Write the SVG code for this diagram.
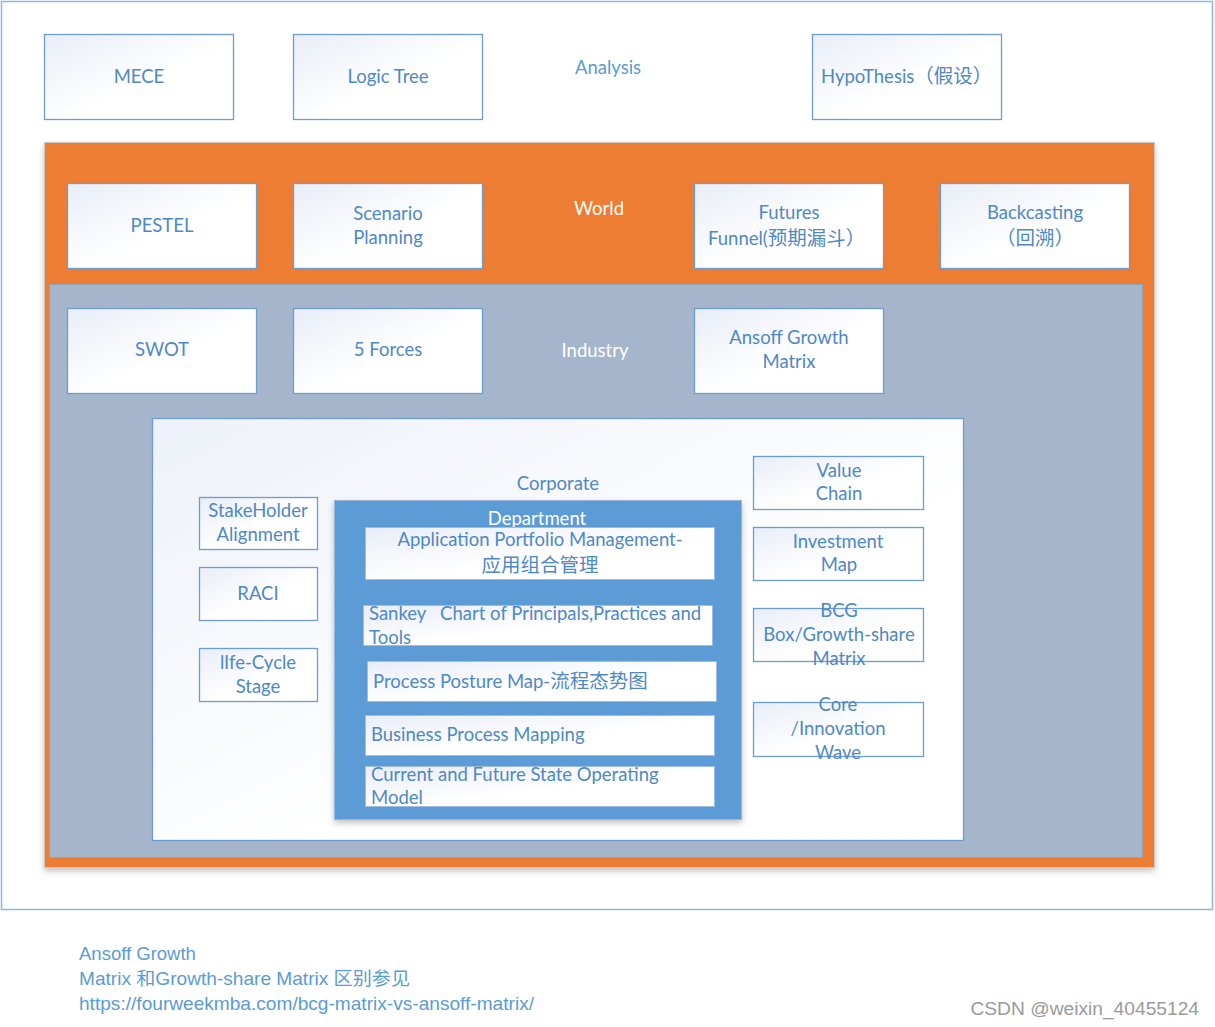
<svg xmlns="http://www.w3.org/2000/svg" width="1215" height="1027" viewBox="0 0 1215 1027">
<defs>
<linearGradient id="g" x1="0" y1="0" x2="1" y2="1">
<stop offset="0" stop-color="#e8edf7"/>
<stop offset="0.55" stop-color="#ffffff"/>
<stop offset="1" stop-color="#ffffff"/>
</linearGradient>
<linearGradient id="gc" x1="0" y1="0" x2="1" y2="1">
<stop offset="0" stop-color="#edf1f9"/>
<stop offset="0.6" stop-color="#ffffff"/>
<stop offset="1" stop-color="#ffffff"/>
</linearGradient>
<filter id="sh" x="-5%" y="-5%" width="110%" height="110%">
<feGaussianBlur in="SourceAlpha" stdDeviation="3"/>
<feOffset dx="0" dy="3"/>
<feComponentTransfer><feFuncA type="linear" slope="0.25"/></feComponentTransfer>
<feMerge><feMergeNode/><feMergeNode in="SourceGraphic"/></feMerge>
</filter>
</defs>
<style>
text{font-family:Lato,"Liberation Sans","Noto Sans CJK SC",sans-serif;font-size:18.5px;fill:#4f88c6}
.k{font-family:"Noto Sans CJK SC",sans-serif;font-size:19.5px}
.c{text-anchor:middle}
.w{fill:#ffffff}
.box{fill:url(#g);stroke:#6e9bd0;stroke-width:1.3}
.bar{fill:url(#g);stroke:#9fbde0;stroke-width:1}
.note{font-family:"Liberation Sans","Noto Sans CJK SC",sans-serif;fill:#5b9bd5;font-size:18.5px}
</style>
<rect width="1215" height="1027" fill="#ffffff"/>
<g id="analysis">
<rect x="1.5" y="1.5" width="1211" height="908" fill="#ffffff" stroke="#8fb6df" stroke-width="1.5"/>
<text class="c" x="608" y="74" style="fill:#5b9bd5">Analysis</text>
</g>
<g id="mece"><rect class="box" x="44.5" y="34.5" width="189" height="85"/><text class="c" x="139" y="83">MECE</text></g>
<g id="logic-tree"><rect class="box" x="293.5" y="34.5" width="189" height="85"/><text class="c" x="388" y="83">Logic Tree</text></g>
<g id="hypothesis"><rect class="box" x="812.5" y="34.5" width="189" height="85"/><text x="821" y="83">HypoThesis<tspan class="k">（假设）</tspan></text></g>
<g id="world">
<rect x="44.5" y="142.5" width="1110" height="725" fill="#ED7D31" stroke="#d0c8c0" stroke-width="1" filter="url(#sh)"/>
<text class="c w" x="599" y="215">World</text>
</g>
<g id="pestel"><rect class="box" x="67.5" y="183.5" width="189" height="85"/><text class="c" x="162" y="232">PESTEL</text></g>
<g id="scenario"><rect class="box" x="293.5" y="183.5" width="189" height="85"/><text class="c" x="388" y="220">Scenario</text><text class="c" x="388" y="244">Planning</text></g>
<g id="futures"><rect class="box" x="694.5" y="183.5" width="189" height="85"/><text class="c" x="789" y="219">Futures</text><text x="708" y="245">Funnel(<tspan class="k">预期漏斗）</tspan></text></g>
<g id="backcasting"><rect class="box" x="940.5" y="183.5" width="189" height="85"/><text class="c" x="1035" y="219">Backcasting</text><text class="c k" x="1035" y="245">（回溯）</text></g>
<g id="industry">
<rect x="49.5" y="284.5" width="1093" height="573" fill="#A5B5CC" stroke="#8ea3c2" stroke-width="1"/>
<text class="c w" x="595" y="357">Industry</text>
</g>
<g id="swot"><rect class="box" x="67.5" y="308.5" width="189" height="85"/><text class="c" x="162" y="356">SWOT</text></g>
<g id="five-forces"><rect class="box" x="293.5" y="308.5" width="189" height="85"/><text class="c" x="388" y="356">5 Forces</text></g>
<g id="ansoff"><rect class="box" x="694.5" y="308.5" width="189" height="85"/><text class="c" x="789" y="344">Ansoff Growth</text><text class="c" x="789" y="368">Matrix</text></g>
<g id="corporate">
<rect x="152.5" y="418.5" width="811" height="422" fill="url(#gc)" stroke="#6e9bd0" stroke-width="1.3"/>
<text class="c" x="558" y="490">Corporate</text>
</g>
<g id="stakeholder"><rect class="box" x="199.5" y="497.5" width="118" height="52"/><text class="c" x="258" y="517">StakeHolder</text><text class="c" x="258" y="541">Alignment</text></g>
<g id="raci"><rect class="box" x="199.5" y="567.5" width="118" height="53"/><text class="c" x="258" y="600">RACI</text></g>
<g id="lifecycle"><rect class="box" x="199.5" y="648.5" width="118" height="53"/><text class="c" x="258" y="669">lIfe-Cycle</text><text class="c" x="258" y="693">Stage</text></g>
<g id="department">
<rect x="334.5" y="500.5" width="407" height="319" fill="#5B9BD5" stroke="#9ab8dc" stroke-width="1" filter="url(#sh)"/>
<text class="c w" x="537" y="525">Department</text>
</g>
<g id="apm"><rect class="bar" x="365.5" y="527.5" width="349" height="52"/><text class="c" x="540" y="546">Application Portfolio Management-</text><text class="c k" x="540" y="572">应用组合管理</text></g>
<g id="sankey"><rect class="bar" x="363.5" y="605.5" width="349" height="40"/><text x="369" y="620" xml:space="preserve">Sankey   Chart of Principals,Practices and</text><text x="369" y="644">Tools</text></g>
<g id="ppm"><rect class="bar" x="367.5" y="661.5" width="349" height="40"/><text x="373" y="688">Process Posture Map-<tspan class="k">流程态势图</tspan></text></g>
<g id="bpm"><rect class="bar" x="365.5" y="715.5" width="349" height="40"/><text x="371" y="741">Business Process Mapping</text></g>
<g id="cfsom"><rect class="bar" x="365.5" y="766.5" width="349" height="40"/><text x="371" y="781">Current and Future State Operating</text><text x="371" y="804">Model</text></g>
<g id="value-chain"><rect class="box" x="753.5" y="456.5" width="170" height="53"/><text class="c" x="839" y="477">Value</text><text class="c" x="839" y="500">Chain</text></g>
<g id="investment-map"><rect class="box" x="753.5" y="527.5" width="170" height="53"/><text class="c" x="838" y="548">Investment</text><text class="c" x="839" y="571">Map</text></g>
<g id="bcg"><rect class="box" x="753.5" y="608.5" width="170" height="53"/><text class="c" x="839" y="617">BCG</text><text class="c" x="839" y="641">Box/Growth-share</text><text class="c" x="839" y="665">Matrix</text></g>
<g id="core"><rect class="box" x="753.5" y="702.5" width="170" height="54"/><text class="c" x="838" y="711">Core</text><text class="c" x="838" y="735">/Innovation</text><text class="c" x="838" y="759">Wave</text></g>
<g id="connectors"></g>
<g id="notes">
<text class="note" x="79" y="960">Ansoff Growth</text>
<text class="note" x="79" y="985" textLength="331" lengthAdjust="spacingAndGlyphs">Matrix 和Growth-share Matrix 区别参见</text>
<text class="note" x="79" y="1010" textLength="455" lengthAdjust="spacingAndGlyphs">https://fourweekmba.com/bcg-matrix-vs-ansoff-matrix/</text>
<text x="1199" y="1015" style="font-family:'Liberation Sans',sans-serif;font-size:19.2px;fill:#9a9a9a;text-anchor:end">CSDN @weixin_40455124</text>
</g>
</svg>
